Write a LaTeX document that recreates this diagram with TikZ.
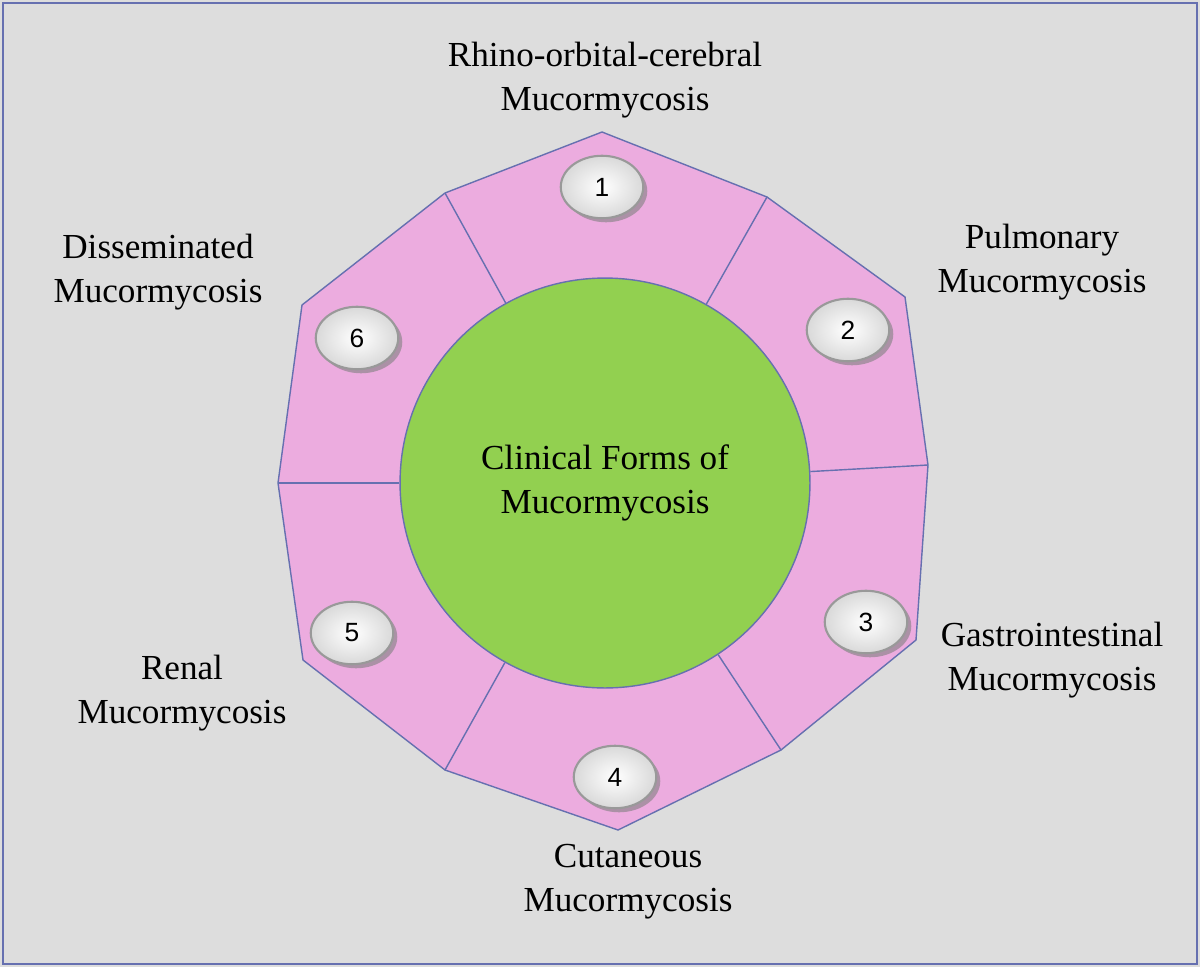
\documentclass[tikz,border=0pt]{standalone}
\usepackage{fontspec}
\setmainfont{Liberation Serif}
\newfontfamily\badgefont{Liberation Sans}
\usetikzlibrary{shadows,shapes.geometric}
\definecolor{panelgray}{HTML}{DDDDDD}
\definecolor{edgeblue}{HTML}{6670B0}
\definecolor{ringpink}{HTML}{ECACDF}
\definecolor{hubgreen}{HTML}{92D050}
\tikzset{
  formlabel/.style={align=center,font=\fontsize{20}{25}\selectfont},
  badge/.style={ellipse,draw=gray!80,line width=1.2pt,inner color=white,outer color=gray!30,
    minimum width=1.65cm,minimum height=1.25cm,font=\badgefont\fontsize{15}{18}\selectfont,
    drop shadow={opacity=0.6}},
  divider/.style={draw=edgeblue,line width=0.8pt}
}
\begin{document}
\begin{tikzpicture}[x=0.02cm,y=-0.02cm]
    \fill[panelgray] (0,0) rectangle (1200,967);
    \draw[edgeblue,line width=1.2pt] (3,3) rectangle (1197,964);

    % outer ring
    \coordinate (v1) at (445,193);
    \coordinate (v2) at (767,197);
    \coordinate (v3) at (928,465);
    \coordinate (v4) at (781,750);
    \coordinate (v5) at (445,770);
    \coordinate (v6) at (278,483);
    \filldraw[fill=ringpink,draw=edgeblue,line width=0.8pt]
      (v1) -- (602,132) -- (v2) -- (905,297) -- (v3) -- (916,640) -- (v4)
      -- (618,830) -- (v5) -- (303,660) -- (v6) -- (302,305) -- cycle;

    \node[circle,fill=hubgreen,draw=edgeblue,line width=0.8pt,minimum size=8.2cm,
      formlabel] (hub) at (605,483) {Clinical Forms of\\Mucormycosis};
    \foreach \v in {v1,v2,v3,v4,v5,v6}
      \path[divider] (\v) -- (hub);

    % badges
    \node[badge] (b1) at (602,187) {1};
    \node[badge] (b2) at (848,330) {2};
    \node[badge] (b3) at (866,622) {3};
    \node[badge] (b4) at (615,777) {4};
    \node[badge] (b5) at (352,633) {5};
    \node[badge] (b6) at (357,338) {6};

    % labels
    \node[formlabel] (rhino) at (605,80) {Rhino-orbital-cerebral\\Mucormycosis};
    \node[formlabel] (pulm) at (1042,262) {Pulmonary\\Mucormycosis};
    \node[formlabel] (gastro) at (1052,660) {Gastrointestinal\\Mucormycosis};
    \node[formlabel] (cutan) at (628,882) {Cutaneous\\Mucormycosis};
    \node[formlabel] (renal) at (182,693) {Renal\\Mucormycosis};
    \node[formlabel] (dissem) at (158,272) {Disseminated\\Mucormycosis};
\end{tikzpicture}
\end{document}
